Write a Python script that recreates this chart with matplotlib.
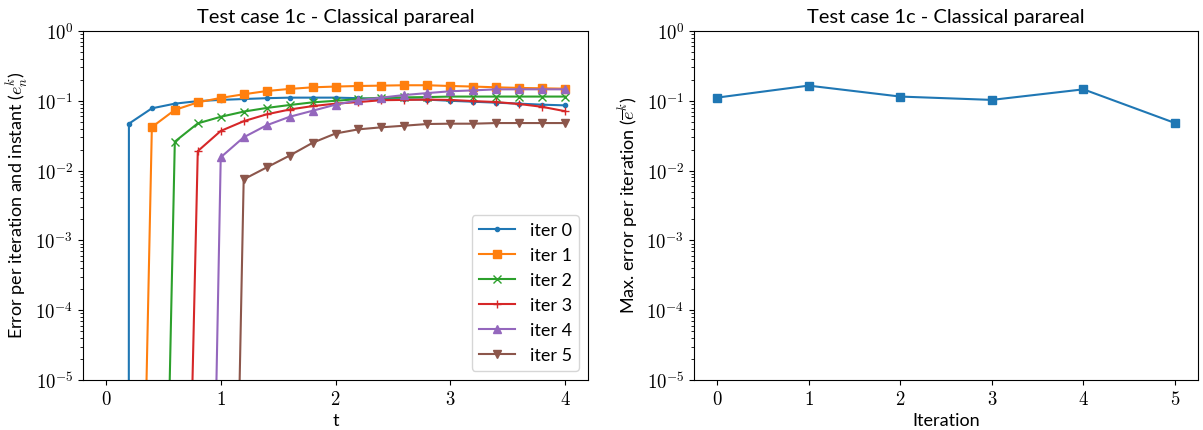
import numpy as np
import matplotlib
matplotlib.use("Agg")
import matplotlib.pyplot as plt
from matplotlib.ticker import FuncFormatter, LogLocator

plt.rcParams['mathtext.fontset'] = 'cm'
plt.rcParams['font.family'] = ['Lato', 'DejaVu Sans']

t = [0.0, 0.2, 0.4, 0.6, 0.8, 1.0, 1.2, 1.4, 1.6, 1.8, 2.0,
     2.2, 2.4, 2.6, 2.8, 3.0, 3.2, 3.4, 3.6, 3.8, 4.0]

# values before convergence front are round-off level (below the axis)
iter0 = [0.0, 0.047, 0.078, 0.091, 0.099, 0.103, 0.106, 0.109, 0.111, 0.111, 0.111,
         0.109, 0.106, 0.105, 0.104, 0.100, 0.097, 0.094, 0.091, 0.088, 0.086]
iter1 = [0.0, 1e-17, 0.042, 0.074, 0.095, 0.110, 0.124, 0.138, 0.148, 0.156, 0.160,
         0.163, 0.165, 0.167, 0.167, 0.163, 0.160, 0.156, 0.153, 0.151, 0.149]
iter2 = [0.0, 1e-17, 1e-17, 0.026, 0.0475, 0.059, 0.070, 0.079, 0.087, 0.095, 0.100,
         0.106, 0.111, 0.112, 0.113, 0.115, 0.115, 0.115, 0.115, 0.115, 0.115]
iter3 = [0.0, 1e-17, 1e-17, 1e-16, 0.019, 0.037, 0.051, 0.064, 0.075, 0.084, 0.091,
         0.096, 0.102, 0.103, 0.104, 0.103, 0.099, 0.096, 0.090, 0.082, 0.071]
iter4 = [0.0, 1e-19, 1e-19, 1e-19, 1e-19, 0.0155, 0.030, 0.0446, 0.059, 0.072, 0.088,
         0.102, 0.111, 0.121, 0.129, 0.137, 0.141, 0.146, 0.146, 0.146, 0.146]
iter5 = [0.0, 3e-19, 3e-19, 3e-19, 3e-19, 3e-19, 0.0075, 0.0111, 0.0164, 0.0250, 0.034,
         0.039, 0.0417, 0.044, 0.0465, 0.047, 0.047, 0.048, 0.048, 0.048, 0.048]

series = [iter0, iter1, iter2, iter3, iter4, iter5]
labels = ['iter 0', 'iter 1', 'iter 2', 'iter 3', 'iter 4', 'iter 5']
markers = ['.', 's', 'x', '+', '^', 'v']

iterations = [0, 1, 2, 3, 4, 5]
max_error = [0.111, 0.165, 0.115, 0.103, 0.146, 0.048]

title = 'Test case 1c - Classical parareal'

fig = plt.figure(figsize=(12.03, 4.30), dpi=100)
ax1 = fig.add_axes([83/1203, 1-380/430, 505/1203, 349/430])
ax2 = fig.add_axes([694/1203, 1-380/430, 504/1203, 349/430])

for y, lab, m in zip(series, labels, markers):
    ax1.plot(t, y, marker=m, label=lab)

ax2.plot(iterations, max_error, marker='s', color='C0')

ylab_fmt = FuncFormatter(lambda v, p: r'$10^{%d}$' % int(round(np.log10(v))))
xlab_fmt = FuncFormatter(lambda v, p: r'$%d$' % int(round(v)))

for ax in (ax1, ax2):
    ax.set_yscale('log')
    ax.set_ylim(1e-5, 1e0)
    ax.yaxis.set_major_locator(LogLocator(base=10, numticks=10))
    ax.yaxis.set_minor_locator(LogLocator(base=10, subs=np.arange(2, 10), numticks=10))
    ax.yaxis.set_major_formatter(ylab_fmt)
    ax.xaxis.set_major_formatter(xlab_fmt)
    ax.tick_params(axis='both', which='major', labelsize=13.5)
    ax.set_title(title, fontsize=14.5)

ax1.set_xticks([0, 1, 2, 3, 4])
ax2.set_xticks(iterations)
ax1.set_xlabel('t', fontsize=13)
ax1.set_ylabel(r'Error per iteration and instant ($e_n^k$)', fontsize=13)
ax2.set_xlabel('Iteration', fontsize=13)
ax2.set_ylabel(r'Max. error per iteration ($\overline{e}^k$)', fontsize=13)

ax1.legend(loc='lower right', fontsize=13)

fig.savefig('out.png', dpi=100)
